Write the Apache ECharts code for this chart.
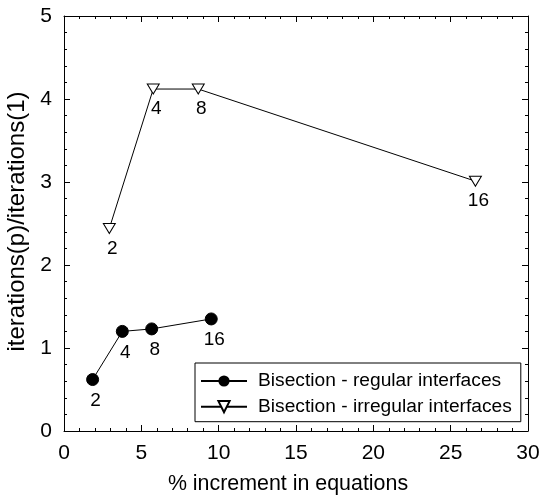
<!DOCTYPE html>
<html><head><meta charset="utf-8">
<script src="https://cdn.jsdelivr.net/npm/echarts@6/dist/echarts.min.js"></script>
<style>html,body{margin:0;padding:0;background:#fff}#c{width:542px;height:496px}</style>
</head><body><div id="c"></div>
<script>
var procLabels = ['2', '4', '8', '16'];
var regularX = [1.85, 3.77, 5.67, 9.52];
var regularY = [0.62, 1.20, 1.23, 1.35];
var irregularX = [2.93, 5.77, 8.68, 26.6];
var irregularY = [2.44, 4.12, 4.12, 3.01];
var seriesNames = ['Bisection - regular interfaces', 'Bisection - irregular interfaces'];
var xTitle = '% increment in equations';
var yTitle = 'iterations(p)/iterations(1)';

function pts(xs, ys) { return xs.map(function (x, i) { return { value: [x, ys[i]], name: procLabels[i] }; }); }

var FONT = '"Liberation Sans", Arial, Helvetica, sans-serif';
var chart = echarts.init(document.getElementById('c'), null, { renderer: 'canvas' });
function axisBase(showLabels) {
  return {
    axisLine: { show: true, onZero: false, lineStyle: { color: '#000', width: 1 } },
    axisTick: { show: true, inside: true, length: 6, lineStyle: { color: '#000' } },
    minorTick: { show: true, splitNumber: 5, length: 3, lineStyle: { color: '#000' } },
    splitLine: { show: false },
    axisLabel: { show: showLabels, color: '#000', fontSize: 21, fontFamily: FONT, margin: 12 },
  };
}
var labelStyle = { show: true, position: 'bottom', distance: 5, offset: [3, 0], color: '#000', fontSize: 19, fontFamily: FONT, formatter: function (p) { return p.name; } };
var option = {
  animation: false,
  backgroundColor: '#fff',
  grid: { left: 64, right: 14, top: 16, bottom: 65, containLabel: false, outerBoundsMode: 'none' },
  xAxis: [
    Object.assign(axisBase(true), { type: 'value', min: 0, max: 30, interval: 5, position: 'bottom',
      name: xTitle, nameLocation: 'middle', nameGap: 43,
      nameTextStyle: { color: '#000', fontSize: 21.4, fontFamily: FONT, padding: [0, 16, 0, 0] } }),
    Object.assign(axisBase(false), { type: 'value', min: 0, max: 30, interval: 5, position: 'top' })
  ],
  yAxis: [
    Object.assign(axisBase(true), { type: 'value', min: 0, max: 5, interval: 1, position: 'left',
      name: yTitle, nameLocation: 'middle', nameGap: 28,
      nameTextStyle: { color: '#000', fontSize: 24, fontFamily: FONT, padding: [0, 0, 0, 4] } }),
    Object.assign(axisBase(false), { type: 'value', min: 0, max: 5, interval: 1, position: 'right' })
  ],
  legend: {
    left: 195, top: 363, orient: 'vertical',
    borderColor: '#000', borderWidth: 1, backgroundColor: '#fff', borderRadius: 0,
    padding: [8, 9, 5, 5], itemGap: 5.7, itemWidth: 46, itemHeight: 14,
    textStyle: { color: '#000', fontSize: 19.2, lineHeight: 20, fontFamily: FONT, padding: [0, 0, 0, 6] },
    data: seriesNames
  },
  series: [
    { name: seriesNames[0], type: 'line', data: pts(regularX, regularY), symbol: 'circle', symbolSize: 12,
      lineStyle: { color: '#000', width: 1 }, itemStyle: { color: '#000', borderColor: '#000' }, label: labelStyle, z: 3 },
    { name: seriesNames[1], type: 'line', data: pts(irregularX, irregularY), symbol: 'path://M0,0 L12,0 L6,10 Z', symbolSize: [12, 10],
      symbolKeepAspect: false,
      lineStyle: { color: '#000', width: 1 }, itemStyle: { color: '#fff', borderColor: '#000', borderWidth: 1 }, label: labelStyle, z: 3 }
  ]
};
chart.setOption(option);
</script></body></html>
